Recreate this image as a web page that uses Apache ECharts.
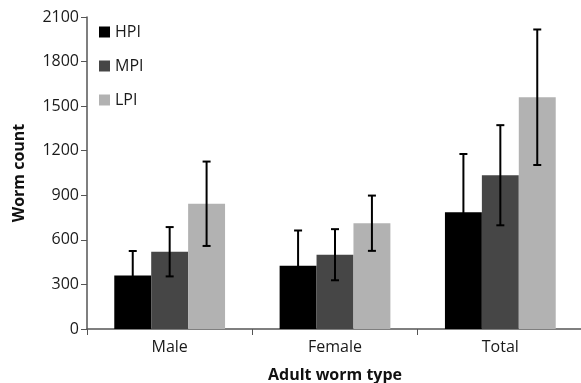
<!DOCTYPE html>
<html>
<head>
<meta charset="utf-8">
<script src="https://cdn.jsdelivr.net/npm/echarts@6/dist/echarts.min.js"></script>
<style>
  html, body { margin: 0; padding: 0; background: #fff; }
  #chart { width: 581px; height: 383px; }
</style>
</head>
<body>
<div id="chart"></div>
<script>
// adult worm counts by infection group
var categories = ["Male", "Female", "Total"];
var seriesNames = ["HPI", "MPI", "LPI"];
var hpi = [360, 425, 785];
var mpi = [520, 500, 1035];
var lpi = [843, 712, 1560];
// +/- error
var hpiErr = [165, 238, 393];
var mpiErr = [166, 172, 337];
var lpiErr = [284, 186, 456];
var yTicks = [0, 300, 600, 900, 1200, 1500, 1800, 2100];

var colors = ["#000000", "#464646", "#b2b2b2"];
var means = [hpi, mpi, lpi];
var errs = [hpiErr, mpiErr, lpiErr];
var gapRatio = 0.33;

var chart = echarts.init(document.getElementById("chart"));

function errorSeries(idx) {
  var data = categories.map(function (c, i) {
    return [i, means[idx][i] - errs[idx][i], means[idx][i] + errs[idx][i]];
  });
  return {
    type: "custom",
    name: seriesNames[idx] + "-err",
    z: 10,
    silent: true,
    data: data,
    renderItem: function (params, api) {
      var band = api.size([1, 0])[0];
      var bw = band * (1 - gapRatio) / 3;
      var off = (idx - 1) * bw;
      var lo = api.coord([api.value(0), api.value(1)]);
      var hi = api.coord([api.value(0), api.value(2)]);
      var x = lo[0] + off;
      var cap = 4;
      var st = { stroke: "#000", lineWidth: 2 };
      return {
        type: "group",
        children: [
          { type: "line", shape: { x1: x, y1: lo[1], x2: x, y2: hi[1] }, style: st },
          { type: "line", shape: { x1: x - cap, y1: hi[1], x2: x + cap, y2: hi[1] }, style: st },
          { type: "line", shape: { x1: x - cap, y1: lo[1], x2: x + cap, y2: lo[1] }, style: st }
        ]
      };
    }
  };
}

var series = seriesNames.map(function (n, i) {
  return {
    name: n,
    type: "bar",
    data: means[i],
    itemStyle: { color: colors[i] },
    barGap: "0%",
    barCategoryGap: (gapRatio * 100) + "%"
  };
});
series = series.concat([errorSeries(0), errorSeries(1), errorSeries(2)]);

chart.setOption({
  animation: false,
  textStyle: { fontFamily: "Open Sans, sans-serif" },
  grid: { left: 87, right: -2, top: 17, bottom: 54, outerBoundsMode: "none", containLabel: false },
  legend: {
    data: seriesNames,
    orient: "vertical",
    left: 94,
    top: 19,
    itemWidth: 11,
    itemHeight: 11,
    itemGap: 18,
    icon: "rect",
    textStyle: { fontSize: 16, color: "#1a1a1a" }
  },
  xAxis: {
    type: "category",
    data: categories,
    name: "Adult worm type",
    nameLocation: "middle",
    nameGap: 38,
    nameTextStyle: { fontSize: 16, fontWeight: "bold", color: "#111" },
    axisLine: { lineStyle: { color: "#555", width: 1.5 } },
    axisTick: { show: true, length: 6, alignWithLabel: false, lineStyle: { color: "#555" } },
    axisLabel: { fontSize: 16, color: "#1a1a1a", margin: 10 }
  },
  yAxis: {
    type: "value",
    min: yTicks[0],
    max: yTicks[yTicks.length - 1],
    interval: 300,
    name: "Worm count",
    nameLocation: "middle",
    nameGap: 60,
    nameTextStyle: { fontSize: 16, fontWeight: "bold", color: "#111" },
    axisLine: { show: true, lineStyle: { color: "#555", width: 1.5 } },
    axisTick: { show: true, length: 6, lineStyle: { color: "#555" } },
    axisLabel: {
      fontSize: 16, color: "#1a1a1a", margin: 8,
      formatter: function (v) { return String(v); }
    },
    splitLine: { show: false }
  },
  series: series
});
</script>
</body>
</html>
